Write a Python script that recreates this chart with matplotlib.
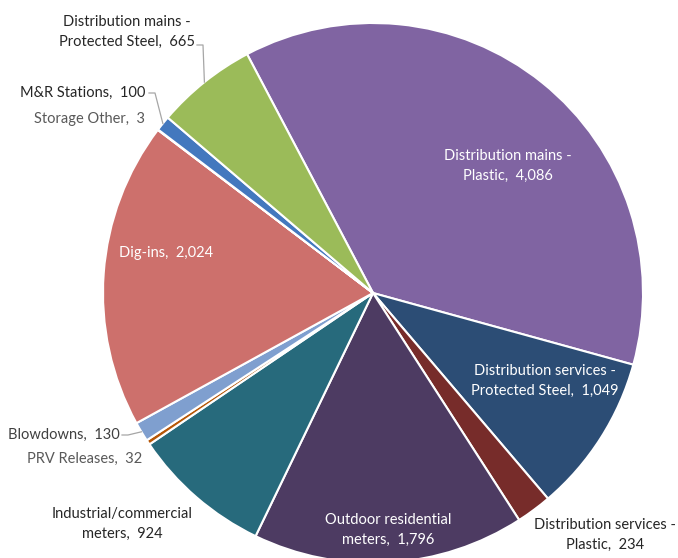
import matplotlib.pyplot as plt
import numpy as np

labels = ['Distribution mains -\nPlastic', 'Distribution services -\nProtected Steel',
          'Distribution services -\nPlastic', 'Outdoor residential\nmeters',
          'Industrial/commercial\nmeters', 'PRV Releases', 'Blowdowns', 'Dig-ins',
          'Storage Other', 'M&R Stations', 'Distribution mains -\nProtected Steel']
values = [4086, 1049, 234, 1796, 924, 32, 130, 2024, 3, 100, 665]
colors = ['#8064A2', '#2C4D75', '#772C2A', '#4D3B62', '#276A7C', '#B65708',
          '#7F9FCF', '#CD706C', '#A9A9A9', '#4378BE', '#9BBB59']

# label placement in pixels: (x, y, ha, color, leader elbow)
cx, cy, R = 373, 293, 270
layout = [
    (508, 166, 'center', 'white', None),
    (545, 381, 'center', 'white', None),
    (605, 535, 'center', '#262626', None),
    (388, 530, 'center', 'white', None),
    (122, 524, 'center', '#262626', None),
    (142, 459, 'right', '#595959', None),
    (120, 435, 'right', '#404040', (128, 435)),
    (166, 253, 'center', 'white', None),
    (145, 119, 'right', '#595959', None),
    (145, 93, 'right', '#262626', (155, 93)),
    (127, 32, 'center', '#262626', (203, 45)),
]

plt.rcParams['font.family'] = ['Lato', 'DejaVu Sans']

fig = plt.figure(figsize=(6.78, 5.58), dpi=100)
ax = fig.add_axes([0, 0, 1, 1])
W, H = 678, 558


def px(x, y):
    return (x - cx) / R, (cy - y) / R


wedges, _ = ax.pie(values, colors=colors, startangle=117.8, counterclock=False,
                   radius=1.0, center=(0, 0),
                   wedgeprops=dict(edgecolor='white', linewidth=1.5))

for w, lab, v, (x, y, ha, col, elbow) in zip(wedges, labels, values, layout):
    txt = lab + ',  ' + format(v, ',')
    tx, ty = px(x, y)
    ax.text(tx, ty, txt, ha=ha, va='center', color=col, fontsize=10.5,
            multialignment='center', linespacing=1.55)
    if elbow is not None:
        ang = np.deg2rad((w.theta1 + w.theta2) / 2)
        wx, wy = np.cos(ang), np.sin(ang)
        ex, ey = px(*elbow)
        sx, sy = px(elbow[0] - 6, elbow[1])
        ax.plot([sx, ex, wx], [sy, ey, wy], color='#A6A6A6', lw=0.9)

ax.set_xlim(-cx / R, (W - cx) / R)
ax.set_ylim(-(H - cy) / R, cy / R)
ax.set_aspect('equal')
ax.axis('off')

fig.savefig('out.png', dpi=100)
